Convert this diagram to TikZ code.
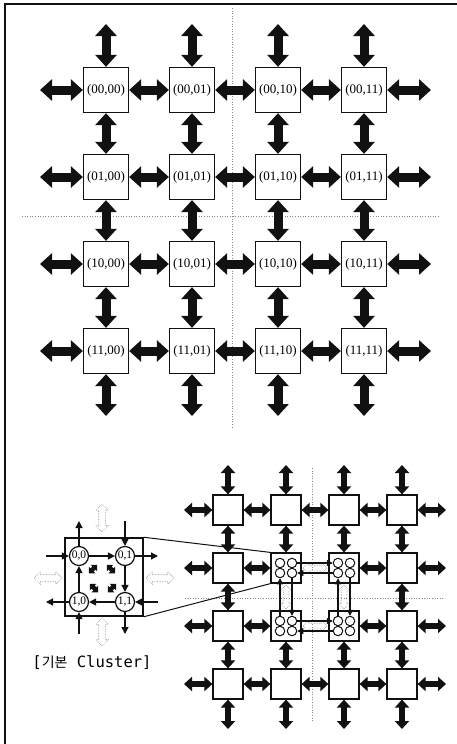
\documentclass[tikz,border=0pt]{standalone}
\usepackage{fontspec}
\setmainfont{Liberation Serif}
\newfontfamily\krfont{Noto Sans CJK KR}
\newfontfamily\codefont{DejaVu Sans Mono}
\usetikzlibrary{arrows.meta, shapes.arrows}
\definecolor{Ink}{HTML}{111111}
\definecolor{Guide}{HTML}{8A8A8A}

\begin{document}
\begin{tikzpicture}[x=1pt, y=-1pt,
  pe/.style={draw=Ink, line width=1.3pt, fill=white, minimum size=45pt, inner sep=0pt, font=\fontsize{13}{15}\selectfont},
  pes/.style={draw=Ink, line width=1.2pt, fill=white, minimum size=30pt, inner sep=0pt},
  link/.style={draw=Ink, line width=9pt, {Triangle[length=12pt,width=21pt]}-{Triangle[length=12pt,width=21pt]}},
  links/.style={draw=Ink, line width=6pt, {Triangle[length=8pt,width=14pt]}-{Triangle[length=8pt,width=14pt]}},
  wire/.style={draw=Ink, line width=1.1pt, -{Triangle[length=6pt,width=6pt]}},
  wirem/.style={draw=Ink, line width=1.3pt, -{Triangle[length=7pt,width=7pt]}},
  core/.style={circle, draw=Ink, line width=1pt, fill=white, minimum size=9.5pt, inner sep=0pt},
  corem/.style={circle, draw=Ink, line width=1.2pt, fill=white, minimum size=19pt, inner sep=0pt, font=\fontsize{11.5}{13}\selectfont},
  ghost/.style={double arrow, draw=Guide, densely dotted, line width=0.6pt, double arrow head extend=3pt, inner sep=3pt, minimum height=28pt},
  spin/.style={double arrow, fill=Ink, double arrow head extend=2.5pt, inner sep=2pt, minimum height=12pt},
  guide/.style={draw=Guide, dotted, line width=0.6pt}]
  \useasboundingbox (0,0) rectangle (457,744);
  \draw[Ink, line width=1.5pt] (5,744) -- (5,4) -- (457,4);

  % guide lines
  \draw[guide] (232,8) -- (232,428);
  \draw[guide] (22,216) -- (440,216);
  \draw[guide] (312,468) -- (312,722);
  \draw[guide] (185,598) -- (445,598);

  % 4x4 mesh
  \foreach \r/\rb in {0/00,1/01,2/10,3/11}
    \foreach \c/\cb in {0/00,1/01,2/10,3/11}
      \node[pe] (p\r\c) at ({106+86*\c},{90+87*\r}) {(\rb,\cb)};
  \foreach \r in {0,...,3}{
    \foreach \c/\n in {0/1,1/2,2/3}{
      \draw[link] (p\r\c) -- (p\r\n);
      \draw[link] (p\c\r) -- (p\n\r);
    }
    \coordinate (pw\r) at (40,{90+87*\r});
    \coordinate (pe\r) at (431,{90+87*\r});
    \coordinate (pn\r) at ({106+86*\r},24);
    \coordinate (ps\r) at ({106+86*\r},416);
    \draw[link] (pw\r) -- (p\r0);
    \draw[link] (p\r3) -- (pe\r);
    \draw[link] (pn\r) -- (p0\r);
    \draw[link] (p3\r) -- (ps\r);
  }

  % clustered mesh
  \node[ghost, rotate=90] (g1) at (102,518) {};
  \node[ghost] (g2) at (48,578) {};
  \node[ghost] (g3) at (160,578) {};
  \node[ghost, rotate=90] (g4) at (102,632) {};
  \node[ghost, minimum height=24pt, inner sep=2.5pt] (g5) at (315,568) {};
  \node[ghost, minimum height=24pt, inner sep=2.5pt] (g6) at (315,626) {};
  \node[ghost, minimum height=24pt, inner sep=2.5pt, rotate=90] (g7) at (286,597) {};
  \node[ghost, minimum height=24pt, inner sep=2.5pt, rotate=90] (g8) at (344,597) {};

  \foreach \r in {0,...,3}
    \foreach \c in {0,...,3}
      \node[pes] (s\r\c) at ({228+58*\c},{510+58*\r}) {};

  \node[draw=Ink, line width=1.5pt, minimum size=78pt, inner sep=0pt] (zoombox) at (104,577) {};
  \draw[Ink, line width=1pt] (zoombox.north east) -- (s11.north west);
  \draw[Ink, line width=1pt] (zoombox.south east) -- (s11.south west);

  \foreach \r in {0,3}
    \foreach \c/\n in {0/1,1/2,2/3}{
      \draw[links] (s\r\c) -- (s\r\n);
      \draw[links] (s\c\r) -- (s\n\r);
    }
  \foreach \r in {1,2}
    \foreach \c/\n in {0/1,2/3}{
      \draw[links] (s\r\c) -- (s\r\n);
      \draw[links] (s\c\r) -- (s\n\r);
    }
  \foreach \r in {0,...,3}{
    \coordinate (sw\r) at (184,{510+58*\r});
    \coordinate (se\r) at (446,{510+58*\r});
    \coordinate (sn\r) at ({228+58*\r},465);
    \coordinate (ss\r) at ({228+58*\r},729);
    \draw[links] (sw\r) -- (s\r0);
    \draw[links] (s\r3) -- (se\r);
    \draw[links] (sn\r) -- (s0\r);
    \draw[links] (s3\r) -- (ss\r);
  }

  % cores inside the clusters
  \foreach \r in {1,2}
    \foreach \c in {1,2}{
      \node[core] (q\r\c-a) at ({222+58*\c},{505+58*\r}) {};
      \node[core] (q\r\c-b) at ({234+58*\c},{505+58*\r}) {};
      \node[core] (q\r\c-c) at ({222+58*\c},{515+58*\r}) {};
      \node[core] (q\r\c-d) at ({234+58*\c},{515+58*\r}) {};
    }
  \foreach \r in {1,2}{
    \draw[wire] (q\r1-b) -- (q\r2-a);
    \draw[wire] (q\r2-c) -- (q\r1-d);
  }
  \foreach \c in {1,2}{
    \draw[wire] (q2\c-a) -- (q1\c-c);
    \draw[wire] (q1\c-d) -- (q2\c-b);
  }

  % basic cluster, enlarged
  \node[corem] (m00) at (79,556) {0,0};
  \node[corem] (m01) at (125,556) {0,1};
  \node[corem] (m10) at (79,602) {1,0};
  \node[corem] (m11) at (125,602) {1,1};
  \draw[wirem] (m00) -- (m01);
  \draw[wirem] (m01) -- (m11);
  \draw[wirem] (m11) -- (m10);
  \draw[wirem] (m10) -- (m00);
  \node[spin, rotate=45] (r1) at (93,569) {};
  \node[spin, rotate=-45] (r2) at (111,569) {};
  \node[spin, rotate=-45] (r3) at (94,588) {};
  \node[spin, rotate=45] (r4) at (112,588) {};
  \coordinate (mu0) at (79,521);
  \coordinate (mu1) at (125,521);
  \coordinate (ml0) at (46,556);
  \coordinate (ml1) at (46,602);
  \coordinate (mr0) at (158,556);
  \coordinate (mr1) at (158,602);
  \coordinate (md0) at (79,634);
  \coordinate (md1) at (125,634);
  \draw[wirem] (m00) -- (mu0);
  \draw[wirem] (mu1) -- (m01);
  \draw[wirem] (ml0) -- (m00);
  \draw[wirem] (m01) -- (mr0);
  \draw[wirem] (m10) -- (ml1);
  \draw[wirem] (mr1) -- (m11);
  \draw[wirem] (md0) -- (m10);
  \draw[wirem] (m11) -- (md1);

  \node[font=\codefont\fontsize{15.5}{18}\selectfont, inner sep=0pt] (caption) at (92,663) {[{\krfont\fontsize{14}{18}\selectfont 기본} Cluster]};
\end{tikzpicture}
\end{document}
